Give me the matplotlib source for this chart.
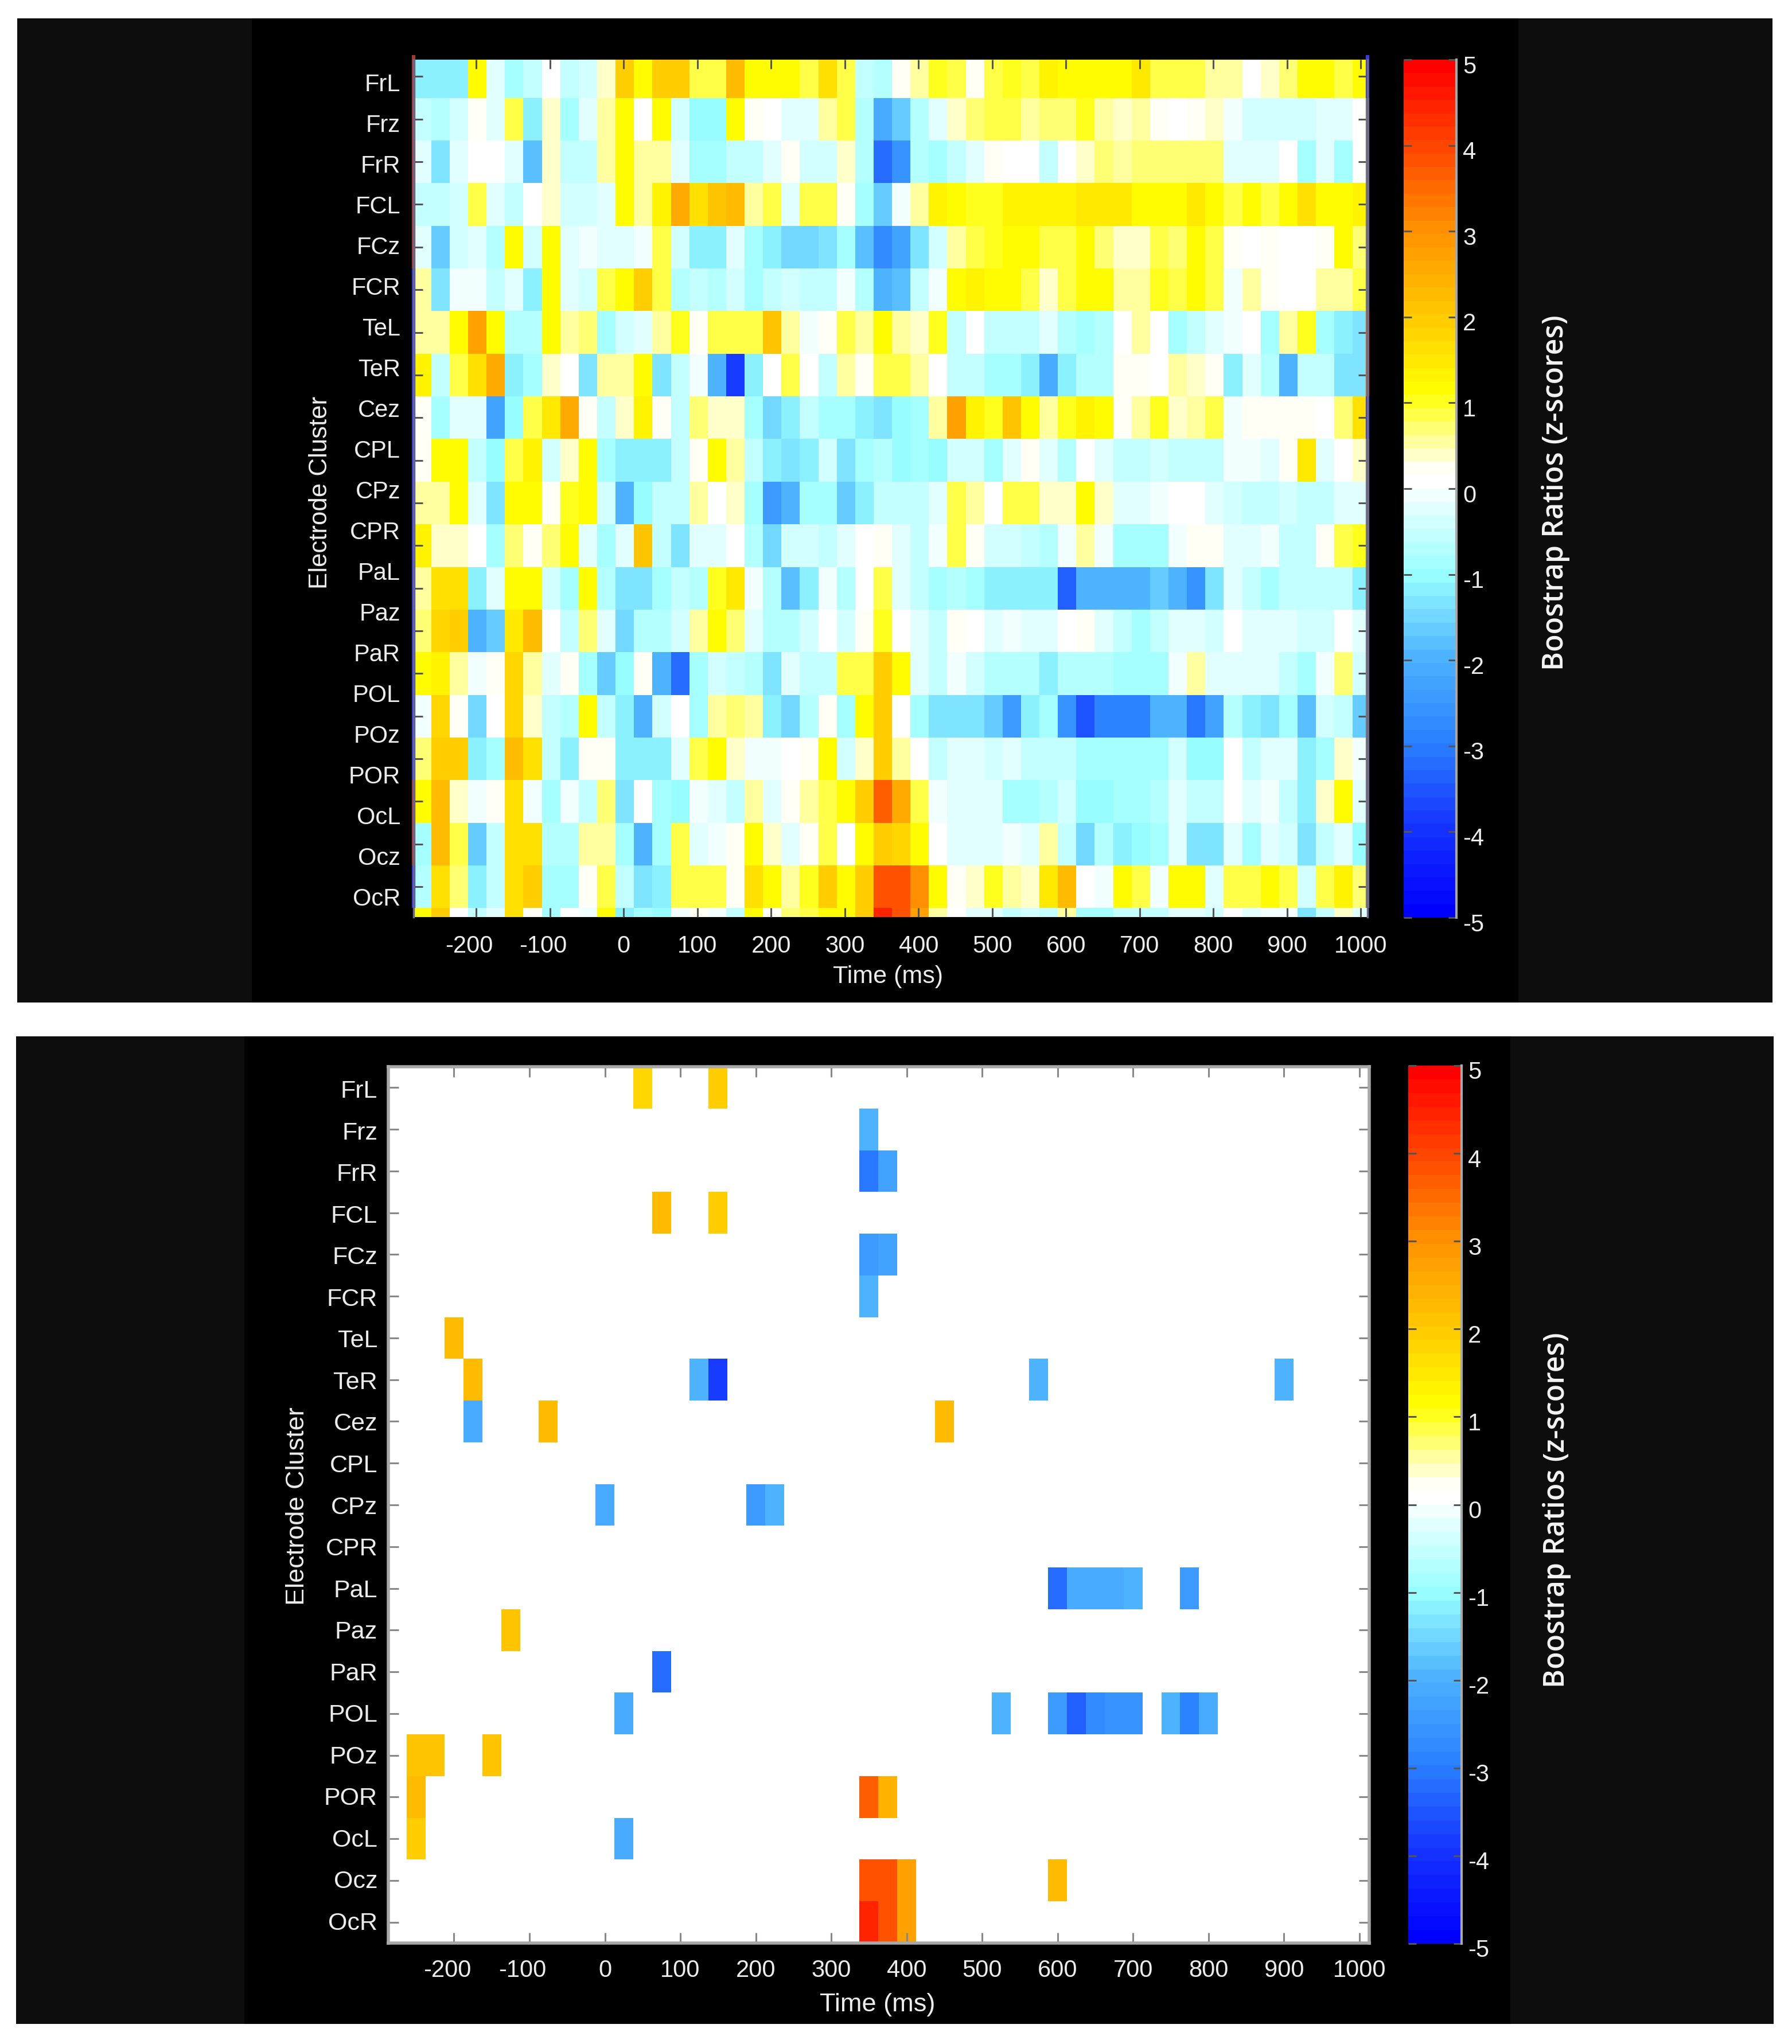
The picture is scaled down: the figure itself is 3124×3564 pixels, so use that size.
import numpy as np
import matplotlib
matplotlib.use('Agg')
import matplotlib.pyplot as plt
from matplotlib.colors import LinearSegmentedColormap, Normalize
from matplotlib.patches import Rectangle
from matplotlib.transforms import ScaledTranslation

W, H = 3124, 3564
plt.rcParams['font.family'] = ['Liberation Sans', 'DejaVu Sans']

clusters = ['FrL', 'Frz', 'FrR', 'FCL', 'FCz', 'FCR', 'TeL', 'TeR', 'Cez', 'CPL', 'CPz',
            'CPR', 'PaL', 'Paz', 'PaR', 'POL', 'POz', 'POR', 'OcL', 'Ocz', 'OcR']
time_ticks = [-200, -100, 0, 100, 200, 300, 400, 500, 600, 700, 800, 900, 1000]
cbar_ticks = [-5, -4, -3, -2, -1, 0, 1, 2, 3, 4, 5]

# bootstrap ratios, one list per row of the upper map, 25 ms bins
r00 = [-1.2,-1.2,-1.1,1.2,-0.3,-0.8,-0.5,0,-0.5,-0.4,0.4,1.9,1.1,2.0,2.0,0.9,0.9,2.2,1.2,1.2,1.2,0.8,1.6,0.8,-0.5,-0.7,0.2,0.6,1.0,0.8,0.2,0.9,1.0,0.9,1.4,1.1,1.1,1.1,1.2,1.5,0.8,0.8,0.9,0.6,0.6,0,0.4,0.7,1.1,1.1,0.8,1.1]
r01 = [-0.5,-0.7,-0.4,0.3,-0.2,0.9,-1.2,0.4,-0.8,-0.2,0.5,1.1,0,1.1,-0.4,-1.0,-1.0,1.1,0.2,0,-0.3,-0.2,0.5,0.9,-0.7,-2.1,-1.6,-0.7,-0.3,0.4,0.7,0.8,0.8,0.6,0.7,0.7,1.0,0.6,0.4,0.5,0.2,0,0.2,0.4,-0.1,-0.4,-0.4,-0.4,-0.4,-0.3,-0.2,0]
r02 = [-0.2,-1.4,-0.2,0,0,-0.3,-1.8,0.4,-0.6,-0.5,0.5,1.1,0.5,0.6,-0.3,-0.9,-0.9,-0.6,-0.5,-0.2,0.3,-0.4,-0.4,0.4,-0.7,-3.2,-2.6,-0.7,-0.8,-0.6,-0.3,0.3,0.1,0,-0.5,0,0.4,0.7,0.6,0.7,0.7,0.7,0.7,0.7,-0.3,-0.3,-0.3,0,-0.8,-0.2,-0.8,0]
r03 = [-0.6,-0.5,-0.4,0.8,-0.3,-0.6,0,0.4,-0.4,-0.4,-0.3,1.1,0.6,1.3,2.5,1.6,2.1,2.2,0.6,0.8,-0.2,0.8,0.8,0.3,-0.8,-1.6,-0.1,0.6,1.4,1.2,1.0,1.0,1.3,1.3,1.3,1.3,1.5,1.5,1.5,1.2,1.1,1.2,1.5,1.2,0.9,1.2,0.8,1.1,1.7,1.1,1.1,1.3]
r04 = [-0.3,-1.6,-0.4,-0.2,-0.7,1.1,-0.4,1.2,-0.2,-0.1,-0.3,-0.2,-0.1,0.9,-0.4,-1.1,-1.1,-0.2,-0.9,-1.1,-1.5,-1.5,-1.3,-0.9,-1.8,-2.8,-2.3,-1.3,-0.4,0.6,0.8,1.0,1.1,1.1,0.9,0.8,1.1,0.7,0.4,0.4,0.8,0.7,1.1,0.9,0.2,0,0.2,0,0,0.3,1.1,0.7]
r05 = [0.6,-1.3,-0.1,-0.1,-0.5,-0.2,-1.1,1.2,-0.2,-0.4,0.8,1.1,1.9,0.9,-0.7,-0.6,-0.7,-0.4,-0.8,-0.6,-0.4,-0.5,-0.5,-0.1,-0.7,-1.9,-1.8,-0.6,-0.1,1.1,1.3,1.1,1.2,0.9,0.4,0.8,1.1,1.1,0.6,0.6,1.0,0.9,1.2,0.8,-0.1,0.6,0.2,0,0,0.5,0.5,0.8]
r06 = [0.5,0.5,1.1,2.7,1.1,-0.7,-0.7,1.2,0.6,0.7,-0.8,-0.4,-0.3,0.6,1.0,0.2,0.8,0.8,0.9,2.1,0.6,-0.1,0.3,0.9,0.6,1.1,0.5,0.4,1.0,-0.5,0,-0.5,-0.6,-0.6,-0.2,-0.7,-0.8,-0.7,0,0.5,0,-0.8,-0.5,-0.3,-0.1,0,-0.8,0.5,1.0,-0.8,-1.2,-1.4]
r07 = [1.4,-0.6,0.8,1.6,2.6,-1.1,-0.8,0.4,0,-1.3,0.6,0.6,1.1,-1.4,-0.5,-0.1,-2.0,-3.9,-1.2,0,0.9,0,-0.6,0.6,0.3,0.9,0.8,0.6,0,-0.6,-0.5,-0.9,-0.8,-1.1,-2.1,-1.1,-0.7,-0.7,0.2,0.2,0,0.5,0.4,0.3,-1.2,-0.2,-0.7,-2.0,-0.6,-0.6,-1.3,-1.4]
r08 = [0.2,-0.9,-0.2,-0.3,-2.3,-1.0,0.8,1.5,2.6,0.2,-0.5,0.4,1.4,0.2,-0.5,0.7,0.4,0.4,-0.8,-1.5,-1.1,-0.6,-0.8,-0.8,-1.2,-1.3,-1.0,-0.8,0.5,2.7,1.4,1.0,2.1,1.1,0.5,1.0,1.3,1.1,0.2,0.5,1.0,0.4,0.6,0.9,-0.1,0.3,0.3,0.3,0.3,0,0.7,1.6]
r09 = [0.2,1.1,1.1,-0.5,-1.0,0.9,1.4,-0.4,0.4,1.1,-0.8,-1.1,-1.1,-1.1,-0.5,0.2,1.1,0.5,-0.6,-1.1,-1.4,-1.1,-0.4,-1.4,-0.8,-0.7,-1.0,-0.9,-1.0,-0.4,-0.4,-0.8,-0.3,0.2,-0.2,-0.7,0,-0.3,-0.5,-0.5,-0.4,-0.6,-0.5,-0.5,-0.1,-0.1,-0.2,0.2,1.5,-0.2,0,0.4]
r10 = [0.6,0.5,1.1,-0.2,-1.3,1.1,1.1,0.3,1.0,1.2,-0.4,-2.0,-1.0,-0.5,-0.5,0.5,0,0.4,-0.8,-2.4,-1.9,-0.9,-0.9,-1.6,-1.2,-0.5,-0.6,-0.6,-0.2,0.9,0.6,0,0.9,0.9,0.4,0.4,1.1,0.4,-0.2,-0.3,-0.1,0,0,-0.3,-0.4,-0.5,-0.5,-0.4,-0.5,-0.6,-0.2,-0.3]
r11 = [1.4,0.4,0.4,0,-0.8,0.7,0.3,0.7,1.1,-0.2,-0.9,-0.2,2.1,-0.5,-1.3,-0.3,-0.3,0,-0.7,-1.5,-0.4,-0.4,-0.5,-0.2,0,0.3,-0.3,-0.6,-0.1,0.9,0.3,-0.4,-0.4,-0.6,-0.7,-0.1,0.5,-0.1,-0.9,-0.9,-0.9,-0.1,0.3,0.3,-0.2,-0.2,-0.1,-0.6,-0.6,0.3,0.9,1.0]
r12 = [0.6,1.7,1.7,-1.2,-0.2,1.2,1.1,-0.4,-0.8,1.2,-0.7,-1.4,-1.4,-0.9,-0.5,-0.7,1.0,1.5,-0.1,-0.7,-1.8,-1.2,-0.1,-0.7,0,0.9,-0.3,-0.5,-0.9,-0.7,-0.8,-1.1,-1.2,-1.1,-1.1,-3.3,-2.0,-2.0,-2.0,-2.0,-1.6,-1.9,-2.6,-1.4,-0.3,-0.5,-0.9,-0.5,-0.5,-0.6,-0.6,-1.1]
r13 = [0.7,1.8,1.9,-2.0,-1.6,1.5,2.2,0,-0.5,0.7,-0.3,-1.5,-0.7,-0.7,-0.4,0.6,1.2,0.7,-0.3,-0.7,-0.7,-0.4,0,-0.4,0.3,1.0,0,-0.3,-0.5,0.3,0,-0.3,-0.1,-0.2,-0.2,0,0.3,-0.3,-0.5,-0.8,-0.6,-0.3,-0.3,-0.4,0,-0.3,-0.3,-0.2,-0.4,-0.4,0,-0.3]
r14 = [1.1,1.4,0.6,-0.1,0.2,1.8,0.6,-0.3,0.2,-0.8,-1.7,-1.0,0.2,-1.9,-3.2,-0.8,-0.4,-0.6,-0.7,-1.3,-0.3,-0.6,-0.6,0.8,0.8,2.0,1.1,-0.2,-0.5,-0.1,-0.4,-0.7,-0.7,-0.7,-1.2,-0.7,-0.7,-0.7,-0.9,-0.8,-0.8,-0.1,0.5,-0.3,-0.2,-0.2,-0.3,-0.6,-0.8,-0.1,0.7,-0.4]
r15 = [-0.1,1.8,0.3,-1.5,0,1.8,0.4,-0.5,-0.7,1.2,-0.5,-1.1,-2.0,-0.4,0,-0.8,0.5,0.7,0.5,-1.1,-1.5,-0.7,0.3,-0.9,1.1,2.0,0,-0.8,-1.3,-1.3,-1.3,-1.6,-2.4,-1.2,-0.8,-2.6,-3.5,-2.9,-2.9,-2.9,-1.9,-2.0,-3.1,-2.2,-0.7,-1.1,-1.4,-0.8,-1.8,-0.4,-0.5,-1.7]
r16 = [0.7,2.0,2.0,-1.2,-0.8,2.2,1.6,-0.5,-1.1,0.3,0.3,-1.1,-1.2,-1.2,-0.2,0.9,1.1,0.4,-0.1,-0.1,0,0.2,1.2,-0.4,0.4,2.0,0.6,0,-0.5,-0.3,-0.3,-0.4,-0.3,-0.6,-0.6,-0.6,-0.8,-0.9,-0.9,-0.9,-0.8,-0.4,-1.0,-1.0,0,-0.5,-0.3,-0.2,-1.1,-0.9,0.4,-0.1]
r17 = [1.1,2.2,0.4,-0.1,0.2,1.7,-0.1,-0.8,-0.1,-0.6,0.7,-1.4,0,-0.8,-1.0,-0.1,-0.3,-0.6,0.6,-0.3,0.3,0.6,0.9,1.1,1.9,3.7,2.5,0.8,-0.1,-0.2,-0.3,-0.3,-0.8,-0.8,-0.7,-0.4,-1.0,-1.0,-0.9,-0.9,-0.7,-0.2,-0.5,-0.5,0,-0.2,-0.1,-0.5,-1.1,0.4,1.1,-0.3]
r18 = [-0.9,2.2,0.9,-1.6,-0.6,1.6,1.6,-0.7,-0.7,0.6,0.6,-0.8,-2.0,-0.9,0.9,-0.2,-0.1,0.3,1.1,0.4,-0.3,0.3,0.8,0,1.2,1.9,1.8,1.2,0,-0.3,-0.3,-0.2,-0.1,-0.3,0.6,-0.5,-1.5,-0.7,-1.1,-1.0,-0.8,-0.3,-1.4,-1.4,-0.3,-0.8,-0.2,-0.4,-1.3,-0.5,-0.3,-1.0]
r19 = [-0.7,1.6,0.7,-1.2,-0.6,1.6,2.0,-0.9,-0.8,0.3,0.9,-0.6,-1.4,-1.1,0.9,0.9,0.8,0.3,1.7,1.1,0.6,1.0,2.0,1.1,2.0,3.9,3.9,3.0,1.1,0.2,0.4,1.0,0.5,0.4,1.5,2.2,0,-0.1,1.1,0.8,-0.1,1.1,1.1,-0.2,0.8,0.9,1.2,0.8,-0.4,0.8,1.3,0.7]
r20 = [1.1,1.9,0.1,-0.6,-0.2,1.7,0.3,-0.9,0,-0.1,1.1,-1.2,-0.8,-1.0,-0.1,0.2,-0.1,-0.6,1.1,0.2,0.7,0.9,1.2,1.1,2.0,4.5,3.9,2.8,0.6,0,-0.3,-0.2,-0.6,-0.4,-0.5,0.6,-0.9,-0.9,-0.6,-0.5,-0.5,-0.3,-0.3,-0.4,0,-0.2,-0.1,-0.1,-1.3,-0.6,0.4,-0.2]

# cells of the lower map that survive the threshold
sig_rows = ['FrL','FrL','Frz','FrR','FrR','FCL','FCL','FCz','FCz','FCR','TeL','TeR','TeR','TeR','TeR','TeR',
            'Cez','Cez','Cez','CPz','CPz','CPz','PaL','PaL','PaL','PaL','PaL','PaL','Paz','PaR',
            'POL','POL','POL','POL','POL','POL','POL','POL','POL','POL',
            'POz','POz','POz','POR','POR','POR','OcL','OcL','Ocz','Ocz','Ocz','Ocz','OcR','OcR','OcR']
sig_times = [50,150,350,350,375,75,150,350,375,350,-200,-175,125,150,575,900,
             -175,-75,450,0,200,225,600,625,650,675,700,775,-125,75,
             25,525,600,625,650,675,700,750,775,800,
             -250,-225,-150,-250,350,375,-250,25,350,375,400,600,350,375,400]
sig_values = [1.8,2.0,-2.0,-3.1,-2.2,2.3,2.0,-2.5,-2.2,-2.0,2.3,2.3,-1.9,-3.9,-2.0,-2.0,
              -2.1,2.3,2.3,-2.1,-2.5,-2.0,-3.2,-2.1,-2.1,-2.1,-2.0,-2.4,2.1,-3.2,
              -2.1,-2.0,-2.5,-3.4,-2.7,-2.6,-2.6,-2.0,-2.9,-2.1,
              2.1,2.1,2.1,2.2,3.7,2.4,2.0,-2.1,3.8,3.8,2.8,2.3,4.4,3.8,2.8]

top_matrix = np.array([r00,r01,r02,r03,r04,r05,r06,r07,r08,r09,r10,r11,r12,r13,r14,r15,r16,r17,r18,r19,r20])
bins = np.arange(-275, 1001, 25)
bottom_matrix = np.zeros((len(clusters), len(bins)))
for name, t, v in zip(sig_rows, sig_times, sig_values):
    bottom_matrix[clusters.index(name), list(bins).index(t)] = v

# colormap: blue - cyan - white - yellow - red, 64 steps like the original
cmap = LinearSegmentedColormap.from_list('boot', [
    (0.0, '#0000ff'), (0.1, '#1533ff'), (0.2, '#2a80ff'), (0.3, '#4db2ff'), (0.4, '#99ffff'),
    (0.49, '#eeffff'), (0.5, '#ffffff'), (0.52, '#ffffff'), (0.614, '#ffff00'),
    (0.7, '#ffcc00'), (0.8, '#ff9500'), (0.9, '#ff4a00'), (1.0, '#ff0000')], N=64)
norm = Normalize(-5, 5)

fig = plt.figure(figsize=(W / 100, H / 100), dpi=100, facecolor='white')
text_c = '#ececec'


def box(x0, y0, x1, y1):
    return [x0 / W, 1 - y1 / H, (x1 - x0) / W, (y1 - y0) / H]


def panel(x0, y0, x1, y1, xc0, xc1):
    fig.add_artist(Rectangle((x0 / W, 1 - y1 / H), (x1 - x0) / W, (y1 - y0) / H,
                             transform=fig.transFigure, color='#0d0d0d', lw=0, zorder=-2))
    fig.add_artist(Rectangle((xc0 / W, 1 - y1 / H), (xc1 - xc0) / W, (y1 - y0) / H,
                             transform=fig.transFigure, color='black', lw=0, zorder=-1))


def ftext(x, y, s, **kw):
    fig.text(x / W, 1 - y / H, s, color=kw.pop('color', text_c), **kw)


def shift(label, dx, dy):
    label.set_transform(label.get_transform() + ScaledTranslation(dx / 100, dy / 100, fig.dpi_scale_trans))


def style_axes(ax, spine_c, spine_w, tick_c, tick_l, pad):
    for s in ax.spines.values():
        s.set_color(spine_c)
        s.set_linewidth(spine_w)
    ax.set_xticks(time_ticks)
    ax.set_xticklabels([str(t) for t in time_ticks], fontsize=30, color=text_c)
    ax.tick_params(axis='both', direction='in', top=True, right=True, length=tick_l, width=2.2,
                   color=tick_c)
    ax.tick_params(axis='x', pad=pad)
    ax.set_yticklabels([])
    for lab in ax.get_xticklabels()[:2]:
        shift(lab, -12, 0)


def colorbar(mesh, rect, size=30):
    cax = fig.add_axes(box(*rect))
    cb = fig.colorbar(mesh, cax=cax, ticks=cbar_ticks)
    # only the right edge of the bar has a line in the original
    cb.outline.set_visible(False)
    cax.plot([1, 1], [-5, 5], color='#a8a8a8', lw=3, clip_on=False)
    cax.set_xlim(0, 1)
    cax.set_ylim(-5, 5)
    cax.set_yticks(cbar_ticks)
    cax.set_yticklabels([str(t) for t in cbar_ticks], fontsize=size, color=text_c)
    cax.tick_params(axis='y', direction='in', left=True, right=True, length=10, width=2.2,
                    color='#555555', pad=8)
    for lab in cax.get_yticklabels():
        shift(lab, 0, -8)
    return cb


# ---- upper panel
panel(30, 32, 3090, 1748, 439, 2647)
ax1 = fig.add_axes(box(721, 104, 2384, 1599))
x_edges = np.arange(-286, 1015, 25)
mesh1 = ax1.pcolormesh(x_edges, np.arange(-0.5, 21), top_matrix, cmap=cmap, norm=norm)
ax1.set_xlim(-285, 1009)
ax1.set_ylim(19.71, -0.395)
ax1.set_yticks(range(20))
style_axes(ax1, '#6a6a8a', 2.5, '#555555', 11.5, 22)
ax1.spines['top'].set_visible(False)
ax1.spines['bottom'].set_visible(False)

# coloured slivers on both sides of the upper map
left_sliver = ['#a03a2a'] * 5 + ['#2a3adf'] * 12 + ['#a03a2a'] * 2 + ['#2a3adf']
right_sliver = ['#3a3adf'] + ['#777777'] * 5 + ['#c06030'] * 2 + ['#3a3adf'] + ['#777777'] * 11
for i, c in enumerate(left_sliver):
    ax1.plot([-285, -285], [i - 0.5, i + 0.5], color=c, lw=4.5, clip_on=False, solid_capstyle='butt')
for i, c in enumerate(right_sliver):
    ax1.plot([1009, 1009], [i - 0.5, i + 0.5], color=c, lw=4.5, clip_on=False, solid_capstyle='butt')
ax1.set_xlim(-285, 1009)
ax1.set_ylim(19.71, -0.395)

for i, name in enumerate(clusters):
    ftext(698, 148 + 71.0 * i, name, fontsize=30, ha='right', va='center')
ftext(559, 859, 'Electrode Cluster', fontsize=31.5, rotation=90, ha='center', va='center')
ftext(1548, 1703, 'Time (ms)', fontsize=31, ha='center', va='center')
colorbar(mesh1, (2447, 104, 2539, 1600))
ftext(2712, 859, 'Boostrap Ratios (z-scores)', fontsize=36, rotation=90, ha='center', va='center',
      family=['Open Sans', 'DejaVu Sans'], weight='semibold', color='#f4f4f4')

# ---- lower panel
panel(28, 1807, 3092, 3529, 426, 2633)
ax2 = fig.add_axes(box(677, 1860, 2387, 3388))
ax2.set_facecolor('white')
mesh2 = ax2.pcolormesh(np.arange(-287.5, 1013, 25), np.arange(-0.5, 21), bottom_matrix, cmap=cmap, norm=norm)
ax2.set_xlim(-287, 1013)
ax2.set_ylim(20.5, -0.5)
ax2.set_yticks(range(21))
style_axes(ax2, '#a8a8a8', 4, '#888888', 13, 20)

for i, name in enumerate(clusters):
    ftext(658, 1903 + 72.55 * i, name, fontsize=31, ha='right', va='center')
ftext(518, 2626, 'Electrode Cluster', fontsize=32.5, rotation=90, ha='center', va='center')
ftext(1530, 3495, 'Time (ms)', fontsize=32.5, ha='center', va='center')
colorbar(mesh2, (2455, 1858, 2548, 3389))
ftext(2714, 2633, 'Boostrap Ratios (z-scores)', fontsize=36, rotation=90, ha='center', va='center',
      family=['Open Sans', 'DejaVu Sans'], weight='semibold', color='#f4f4f4')

fig.savefig('out.png', dpi=100, facecolor='white')
